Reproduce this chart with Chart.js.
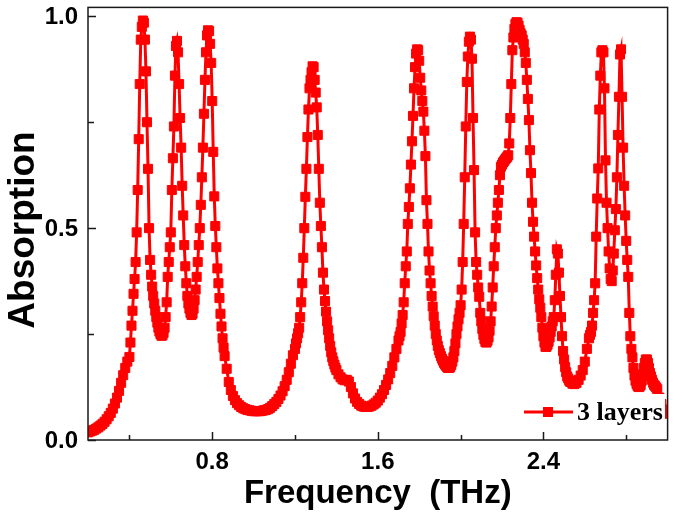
<!DOCTYPE html>
<html><head><meta charset="utf-8">
<script src="https://cdn.jsdelivr.net/npm/chart.js@4.4.1/dist/chart.umd.min.js"></script>
<style>html,body{margin:0;padding:0;background:#fff;}canvas{display:block;}</style>
</head><body>
<canvas id="c" width="675" height="530"></canvas>
<script>
// Frequency (THz) of each sample and the absorption
const frequency = [
0.20,0.21,0.22,0.23,0.24,0.25,0.26,0.27,0.28,0.29,
0.30,0.31,0.32,0.33,0.34,0.35,0.36,0.37,0.38,0.39,
0.400,0.405,0.410,0.415,0.420,0.425,0.430,0.435,0.440,0.445,
0.450,0.455,0.460,0.465,0.470,0.475,0.480,0.485,0.490,0.495,
0.500,0.505,0.510,0.515,0.520,0.525,0.530,0.535,0.540,0.545,
0.550,0.555,0.560,0.565,0.570,0.575,0.580,0.585,0.590,0.595,
0.600,0.605,0.610,0.615,0.620,0.625,0.630,0.635,0.640,0.645,
0.650,0.655,0.660,0.665,0.670,0.675,0.680,0.685,0.690,0.695,
0.700,0.705,0.710,0.715,0.720,0.725,0.730,0.735,0.740,0.745,
0.750,0.755,0.760,0.765,0.770,0.775,0.780,0.785,0.790,0.795,
0.800,0.805,0.810,0.815,0.820,0.825,0.830,0.835,0.840,0.845,
0.850,0.855,0.860,
0.87,0.88,0.89,0.90,0.91,0.92,0.93,0.94,0.95,0.96,
0.97,0.98,0.99,1.00,1.01,1.02,1.03,1.04,1.05,1.06,
1.07,1.08,1.09,1.10,1.11,1.12,1.13,1.14,1.15,1.16,
1.17,1.18,1.19,
1.200,1.205,1.210,1.215,1.220,1.225,1.230,1.235,1.240,1.245,
1.250,1.255,1.260,1.265,1.270,1.275,1.280,1.285,1.290,1.295,
1.300,1.305,1.310,1.315,1.320,1.325,1.330,1.335,1.340,1.345,
1.350,1.355,1.360,1.365,1.370,1.375,1.380,1.385,1.390,1.395,
1.400,
1.41,1.42,1.43,1.44,1.45,1.46,1.47,1.48,1.49,1.50,
1.51,1.52,1.53,1.54,1.55,1.56,1.57,1.58,1.59,1.60,
1.61,1.62,1.63,1.64,1.65,1.66,1.67,1.68,1.69,
1.700,1.705,1.710,1.715,1.720,1.725,1.730,1.735,1.740,1.745,
1.750,1.755,1.760,1.765,1.770,1.775,1.780,1.785,1.790,1.795,
1.800,1.805,1.810,1.815,1.820,1.825,1.830,1.835,1.840,1.845,
1.850,1.855,1.860,1.865,1.870,1.875,1.880,1.885,1.890,1.895,
1.900,1.905,1.910,1.915,1.920,1.925,1.930,1.935,1.940,1.945,
1.950,1.955,1.960,
1.965,1.970,1.975,1.980,1.985,1.990,1.995,2.000,2.005,2.010,
2.015,2.020,2.025,2.030,2.035,2.040,2.045,2.050,2.055,2.060,
2.065,2.070,2.075,2.080,2.085,2.090,2.095,2.100,2.105,2.110,
2.115,2.120,2.125,2.130,
2.135,2.140,2.145,2.150,2.155,2.160,2.165,2.170,2.175,2.180,
2.185,2.190,2.195,2.200,2.205,2.210,2.215,2.220,2.225,2.230,
2.235,2.240,2.245,2.250,2.255,2.260,2.265,2.270,2.275,2.280,
2.285,2.290,2.295,2.300,2.305,2.310,2.315,2.320,2.325,2.330,
2.335,2.340,2.345,2.350,2.355,2.360,2.365,2.370,2.375,2.380,
2.385,2.390,2.395,2.400,2.405,2.410,
2.415,2.420,2.425,2.430,2.435,2.440,2.445,2.450,2.455,2.460,
2.465,2.470,2.475,2.480,2.485,2.490,2.495,2.500,2.505,2.510,
2.515,2.520,2.525,2.530,
2.54,2.55,2.56,2.57,2.58,2.59,2.60,2.61,2.62,
2.625,2.630,2.635,2.640,2.645,2.650,2.655,2.660,2.665,2.670,
2.675,2.680,2.685,2.690,2.695,2.700,2.705,2.710,2.715,2.720,
2.725,2.730,2.735,2.740,2.745,2.750,2.755,2.760,2.765,2.770,
2.775,2.780,2.785,2.790,2.795,2.800,2.805,2.810,2.815,2.820,
2.825,2.830,2.835,2.840,2.845,2.850,2.855,2.860,
2.865,2.870,2.875,2.880,2.885,2.890,2.895,2.900,2.905,2.910,
2.915,2.920,2.925,2.930,2.935,2.940,2.945,2.950,
2.96,2.97,2.98,2.99,3.00];
const absorption = [
0.018,0.020,0.022,0.024,0.027,0.030,0.034,0.038,0.043,0.049,
0.056,0.064,0.074,0.086,0.100,0.116,0.135,0.153,0.170,0.185,
0.196,0.230,0.270,0.305,0.345,0.380,0.420,0.490,0.590,0.710,
0.840,0.945,0.975,0.990,0.985,0.945,0.870,0.750,0.640,0.500,
0.425,0.390,0.362,0.340,0.322,0.305,0.290,0.277,0.265,0.256,
0.250,0.246,0.247,0.253,0.265,0.290,0.325,0.385,0.420,0.455,
0.490,0.590,0.665,0.740,0.860,0.930,0.942,0.915,0.840,0.760,
0.690,0.600,0.530,0.460,0.410,0.370,0.340,0.322,0.310,0.300,
0.295,0.298,0.310,0.330,0.355,0.385,0.420,0.460,0.500,0.555,
0.620,0.690,0.770,0.850,0.915,0.955,0.967,0.965,0.935,0.890,
0.800,0.680,0.575,0.505,0.455,0.405,0.370,0.335,0.298,0.268,
0.240,0.218,0.198,
0.168,0.137,0.118,0.104,0.094,0.087,0.082,0.078,0.075,0.073,
0.071,0.070,0.069,0.068,0.068,0.068,0.068,0.069,0.070,0.071,
0.073,0.076,0.080,0.085,0.090,0.097,0.105,0.115,0.127,0.142,
0.160,0.180,0.200,
0.215,0.228,0.240,0.252,0.265,0.290,0.325,0.370,0.430,0.500,
0.574,0.640,0.715,0.780,0.830,0.850,0.868,0.882,0.880,0.850,
0.820,0.785,0.720,0.640,0.560,0.505,0.455,0.395,0.355,0.328,
0.303,0.280,0.259,0.240,0.222,0.207,0.195,0.186,0.178,0.171,
0.165,
0.155,0.148,0.143,0.141,0.142,0.138,0.125,0.110,0.098,0.090,
0.085,0.081,0.079,0.078,0.078,0.079,0.081,0.084,0.088,0.093,
0.100,0.108,0.118,0.130,0.143,0.158,0.175,0.195,0.215,
0.235,0.245,0.255,0.275,0.295,0.325,0.370,0.410,0.445,0.510,
0.550,0.594,0.650,0.705,0.765,0.830,0.880,0.912,0.922,0.920,
0.895,0.855,0.825,0.800,0.775,0.730,0.670,0.566,0.510,0.445,
0.400,0.370,0.340,0.315,0.292,0.270,0.250,0.235,0.222,0.212,
0.205,0.198,0.192,0.187,0.182,0.178,0.175,0.172,0.170,0.170,
0.172,0.177,0.185,
0.195,0.210,0.228,0.250,0.268,0.285,0.300,0.318,0.355,0.420,
0.510,0.620,0.740,0.845,0.905,0.940,0.952,0.945,0.900,0.760,
0.637,0.490,0.420,0.390,0.360,0.338,0.300,0.280,0.262,0.248,
0.238,0.231,0.230,0.234,
0.242,0.258,0.280,0.315,0.360,0.410,0.455,0.500,0.530,0.560,
0.590,0.625,0.645,0.650,0.655,0.658,0.662,0.665,0.668,0.672,
0.700,0.760,0.840,0.920,0.950,0.970,0.982,0.986,0.985,0.978,
0.968,0.960,0.955,0.945,0.935,0.915,0.890,0.850,0.805,0.755,
0.684,0.630,0.560,0.515,0.480,0.445,0.412,0.382,0.355,0.332,
0.312,0.290,0.265,0.245,0.230,0.220,
0.220,0.225,0.232,0.242,0.255,0.268,0.280,0.290,0.330,0.390,
0.450,0.440,0.395,0.340,0.290,0.245,0.210,0.190,0.172,0.160,
0.150,0.145,0.140,0.137,
0.133,0.132,0.135,0.142,0.152,0.165,0.185,0.215,0.240,
0.248,0.255,0.270,0.300,0.330,0.370,0.480,0.570,0.641,0.780,
0.860,0.915,0.920,0.915,0.830,0.660,0.560,0.500,0.445,0.405,
0.380,0.375,0.400,0.440,0.495,0.545,0.620,0.720,0.810,0.910,
0.922,0.810,0.690,0.600,0.530,0.470,0.425,0.385,0.300,0.245,
0.215,0.195,0.170,0.152,0.140,0.132,0.127,0.125,
0.126,0.130,0.140,0.155,0.170,0.182,0.190,0.190,0.182,0.170,
0.158,0.150,0.142,0.135,0.130,0.127,0.124,0.120,
0.100,0.085,0.072,0.065,0.062];
const xTickValues = [0.4, 0.8, 1.2, 1.6, 2.0, 2.4, 2.8];
const xTickLabels = ['', '0.8', '', '1.6', '', '2.4', ''];
const yTickValues = [0, 0.25, 0.5, 0.75, 1.0];
const yTickLabels = ['0.0', '', '0.5', '', '1.0'];
const seriesName = '3 layers';
const xTitle = 'Frequency  (THz)';
const yTitle = 'Absorption';

const RED = '#ff0000';
const SANS = '"Liberation Sans", Arial, sans-serif';
const SERIF = '"Liberation Serif", "Times New Roman", serif';

const decor = {
  id: 'decor',
  afterDatasetsDraw(chart) {
    const ctx = chart.ctx;
    ctx.save();
    // legend (white box over the plot, bottom right)
    ctx.fillStyle = '#ffffff';
    ctx.fillRect(518, 394, 147, 38);
    ctx.strokeStyle = RED;
    ctx.lineWidth = 3;
    ctx.beginPath();
    ctx.moveTo(524, 412); ctx.lineTo(573, 412);
    ctx.stroke();
    ctx.fillStyle = RED;
    ctx.fillRect(543, 407, 10, 10);
    ctx.fillStyle = '#000';
    ctx.font = 'bold 26px ' + SERIF;
    ctx.textAlign = 'left';
    ctx.textBaseline = 'middle';
    ctx.fillText(seriesName, 577, 413);
    ctx.restore();
  },
  afterDraw(chart) {
    const ctx = chart.ctx;
    const a = chart.chartArea;
    const xs = chart.scales.x, ys = chart.scales.y;
    ctx.save();
    ctx.strokeStyle = '#1a1a1a';
    ctx.lineWidth = 1.5;
    ctx.strokeRect(a.left, a.top, a.right - a.left, a.bottom - a.top);
    // inward tick marks
    ctx.beginPath();
    xTickValues.forEach((v, i) => {
      const px = Math.round(xs.getPixelForValue(v)) + 0.5;
      const len = xTickLabels[i] ? 8 : 5;
      ctx.moveTo(px, a.bottom); ctx.lineTo(px, a.bottom - len);
    });
    yTickValues.forEach((v, i) => {
      const py = Math.round(ys.getPixelForValue(v)) + 0.5;
      const len = yTickLabels[i] ? 8 : 6;
      ctx.moveTo(a.left, py); ctx.lineTo(a.left + len, py);
    });
    ctx.stroke();
    // tick labels
    ctx.fillStyle = '#000';
    ctx.font = 'bold 24px ' + SANS;
    ctx.textBaseline = 'middle';
    ctx.textAlign = 'center';
    xTickValues.forEach((v, i) => {
      if (xTickLabels[i]) ctx.fillText(xTickLabels[i], xs.getPixelForValue(v), 462);
    });
    ctx.textAlign = 'right';
    yTickValues.forEach((v, i) => {
      if (yTickLabels[i]) ctx.fillText(yTickLabels[i], a.left - 10, ys.getPixelForValue(v) + 1);
    });
    // axis titles
    ctx.font = 'bold 33px ' + SANS;
    ctx.textAlign = 'center';
    ctx.fillText(xTitle, (a.left + a.right) / 2, 494);
    ctx.font = 'bold 37px ' + SANS;
    ctx.translate(24, 230);
    ctx.rotate(-Math.PI / 2);
    ctx.fillText(yTitle, 0, 0);
    ctx.restore();
  }
};

const points = frequency.map((f, i) => ({x: f, y: absorption[i]}));

new Chart(document.getElementById('c'), {
  type: 'line',
  data: {
    datasets: [{
      label: seriesName,
      data: points,
      borderColor: RED,
      backgroundColor: RED,
      borderWidth: 3,
      pointStyle: 'rect',
      pointRadius: 6.4,
      pointBorderWidth: 1,
      pointBackgroundColor: RED,
      pointBorderColor: RED,
      tension: 0,
      fill: false
    }]
  },
  options: {
    responsive: false,
    devicePixelRatio: 1,
    animation: false,
    events: [],
    layout: {padding: {left: 88, right: 5, top: 7, bottom: 90}},
    plugins: {legend: {display: false}, tooltip: {enabled: false}},
    scales: {
      x: {type: 'linear', min: 0.2, max: 3.0, display: false},
      y: {type: 'linear', min: 0, max: 1.021, display: false}
    }
  },
  plugins: [decor]
});
</script>
</body></html>
